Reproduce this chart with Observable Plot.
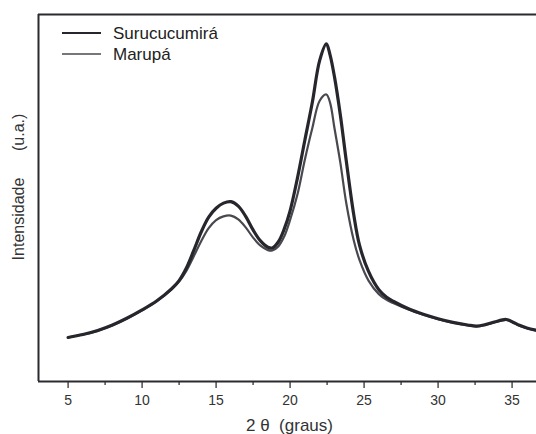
<!DOCTYPE html>
<html>
<head>
<meta charset="utf-8">
<script src="https://cdn.jsdelivr.net/npm/d3@7"></script>
<script src="https://cdn.jsdelivr.net/npm/@observablehq/plot@0.6"></script>
<style>
  html, body { margin: 0; padding: 0; background: #fff; }
  #chart { position: relative; width: 536px; height: 434px; }
  #chart svg { font-family: "Liberation Sans", Arial, sans-serif; }
</style>
</head>
<body>
<div id="chart"></div>
<script>
// 2θ (graus) sample positions
const theta = [5.0, 6.0, 7.0, 8.0, 9.0, 10.0, 11.0, 12.0, 12.5, 13.0, 13.5, 14.0, 14.5, 15.0, 15.5, 16.0, 16.5, 17.0, 17.5, 18.0, 18.5, 18.8, 19.2, 19.6, 20.0, 20.5, 21.0, 21.5, 22.0, 22.45, 22.7, 23.0, 23.4, 23.8, 24.3, 24.7, 25.3, 26.0, 26.5, 27.0, 28.0, 29.0, 30.0, 31.0, 32.0, 32.6, 33.2, 33.8, 34.6, 35.0, 35.5, 36.0, 36.6];
// Intensidade (u.a.) – Surucucumirá
const surucucumira = [12.0, 12.8, 13.9, 15.4, 17.3, 19.5, 22.0, 25.3, 27.5, 31.0, 35.8, 40.8, 44.8, 47.2, 48.6, 49.0, 47.8, 45.0, 41.3, 38.3, 36.6, 36.4, 38.0, 41.5, 46.5, 55.5, 65.8, 76.0, 87.5, 92.0, 89.0, 83.0, 72.5, 60.0, 45.5, 37.0, 30.0, 25.0, 23.0, 21.8, 19.8, 18.3, 17.1, 16.1, 15.4, 15.1, 15.5, 16.2, 16.9, 16.3, 15.3, 14.6, 14.0];
// Intensidade (u.a.) – Marupá
const marupa = [12.0, 12.8, 13.8, 15.3, 17.2, 19.4, 21.9, 25.1, 27.2, 30.2, 34.2, 38.3, 41.8, 44.0, 45.0, 45.2, 44.2, 42.0, 39.2, 37.0, 35.8, 35.7, 36.8, 39.5, 44.0, 51.0, 60.5, 69.0, 76.5, 78.2, 76.0, 69.0, 59.5, 48.5, 38.5, 33.0, 27.5, 23.8, 22.3, 21.3, 19.6, 18.2, 17.0, 16.0, 15.3, 15.0, 15.4, 16.1, 16.8, 16.2, 15.2, 14.5, 13.9];

const seriesNames = ["Surucucumirá", "Marupá"];
const majorTicks = [5, 10, 15, 20, 25, 30, 35];
const minorTicks = [7.5, 12.5, 17.5, 22.5, 27.5, 32.5];
const xDomain = [3, 36.65];
const yDomain = [0, 100];
const xTitle = "2 θ\u00a0\u00a0(graus)";
const yTitle = "Intensidade\u00a0\u00a0\u00a0\u00a0\u00a0\u00a0(u.a.)";

const rows = [];
theta.forEach((t, i) => rows.push({t, v: surucucumira[i], s: seriesNames[0]}));
theta.forEach((t, i) => rows.push({t, v: marupa[i], s: seriesNames[1]}));

const styles = {
  "Surucucumirá": {stroke: "#26262d", width: 3.2, legendWidth: 2.2},
  "Marupá": {stroke: "#48484f", width: 2.2, legendWidth: 1.5}
};

const plot = Plot.plot({
  width: 536,
  height: 434,
  marginLeft: 38,
  marginRight: 0,
  marginTop: 14,
  marginBottom: 53,
  style: {fontFamily: "Liberation Sans, Arial, sans-serif", fontSize: "14px", color: "#333"},
  x: {domain: xDomain},
  y: {domain: yDomain, axis: null},
  marks: [
    Plot.axisX(minorTicks, {tickSize: 4, tickFormat: () => "", stroke: "#333", strokeWidth: 1.3, label: null}),
    Plot.axisX(majorTicks, {tickSize: 7, tickPadding: 7, stroke: "#333", strokeWidth: 1.3, fontSize: 14, fill: "#333", label: null}),
    Plot.text([xTitle], {frameAnchor: "bottom", textAnchor: "middle", lineAnchor: "bottom", dy: 49, dx: 2, fontSize: 17, fill: "#333"}),
    Plot.text([yTitle], {frameAnchor: "left", textAnchor: "middle", rotate: -90, dx: -20, dy: -11, fontSize: 16, fill: "#333"}),
    Plot.line(rows.filter(d => d.s === seriesNames[1]), {x: "t", y: "v", stroke: styles["Marupá"].stroke, strokeWidth: styles["Marupá"].width, curve: "catmull-rom"}),
    Plot.line(rows.filter(d => d.s === seriesNames[0]), {x: "t", y: "v", stroke: styles["Surucucumirá"].stroke, strokeWidth: styles["Surucucumirá"].width, curve: "catmull-rom"}),
    Plot.ruleY([yDomain[0]], {stroke: "#2a2a31", strokeWidth: 2}),
    Plot.ruleY([yDomain[1]], {stroke: "#2a2a31", strokeWidth: 2}),
    Plot.ruleX([xDomain[0]], {stroke: "#2a2a31", strokeWidth: 2})
  ]
});

const chart = document.getElementById("chart");
chart.appendChild(plot);

// Legend overlay
const legend = d3.select(chart).append("svg")
  .attr("width", 220).attr("height", 60)
  .style("position", "absolute").style("left", "55px").style("top", "20px")
  .style("font-family", "Liberation Sans, Arial, sans-serif");
seriesNames.forEach((name, i) => {
  const g = legend.append("g").attr("transform", `translate(0, ${13 + i * 21})`);
  g.append("line").attr("x1", 7).attr("x2", 46).attr("y1", 0).attr("y2", 0)
    .attr("stroke", styles[name].stroke).attr("stroke-width", styles[name].legendWidth);
  g.append("text").attr("x", 58).attr("y", 0).attr("dy", "0.35em")
    .attr("font-size", 17).attr("fill", "#222").text(name);
});
</script>
</body>
</html>
